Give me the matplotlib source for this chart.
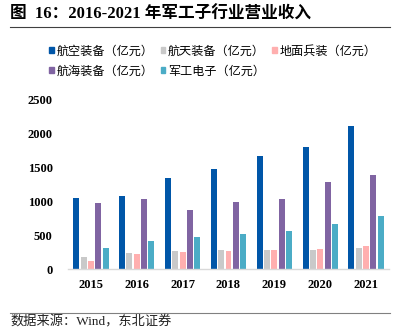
import numpy as np
import matplotlib.pyplot as plt
from matplotlib.lines import Line2D
from matplotlib.patches import Patch

years = ['2015', '2016', '2017', '2018', '2019', '2020', '2021']
series = ['航空装备（亿元）', '航天装备（亿元）', '地面兵装（亿元）',
          '航海装备（亿元）', '军工电子（亿元）']
aviation = [1039, 1074, 1338, 1466, 1657, 1794, 2098]
space = [172, 235, 265, 279, 284, 284, 309]
ground = [118, 216, 250, 265, 284, 299, 343]
naval = [971, 1029, 868, 980, 1029, 1279, 1382]
electronics = [304, 407, 475, 520, 559, 662, 779]
colors = ['#0056A8', '#C9C9C9', '#FFAFAF', '#8064A2', '#4BACC6']

mixed = ['Liberation Serif', 'Noto Sans CJK SC']

fig = plt.figure(figsize=(4.05, 3.33), dpi=100)
W, H = 405, 333

ax = fig.add_axes([68 / W, 64 / H, 321 / W, 170 / H])
x = np.arange(len(years))
stride = 0.16
width = 0.13
for i, vals in enumerate([aviation, space, ground, naval, electronics]):
    ax.bar(x + (i - 2) * stride, vals, width=width, color=colors[i], linewidth=0)

ax.set_xlim(-0.5, 6.5)
ax.set_ylim(0, 2500)
ax.set_yticks([0, 500, 1000, 1500, 2000, 2500])
ax.set_xticks(x)
ax.set_xticklabels(years)
for lab in ax.get_xticklabels() + ax.get_yticklabels():
    lab.set_fontfamily('Liberation Serif')
    lab.set_fontweight('bold')
    lab.set_fontsize(9)
ax.tick_params(axis='x', length=0, pad=7)
ax.tick_params(axis='y', length=0, pad=11)
for s in ['top', 'right', 'left']:
    ax.spines[s].set_visible(False)
ax.spines['bottom'].set_color('#D9D9D9')
ax.spines['bottom'].set_linewidth(1.0)

# legend
handles = [Patch(color=c) for c in colors]
leg_kw = dict(loc='center left', frameon=False, borderpad=0,
              prop={'family': 'Noto Sans CJK SC', 'size': 8.7},
              handlelength=0.4, handleheight=0.4, handletextpad=0.2,
              columnspacing=0.6)
fig.legend(handles[:3], series[:3], ncol=3,
           bbox_to_anchor=(43 / W, 1 - 51 / H), **leg_kw)
fig.legend(handles[3:], series[3:], ncol=2,
           bbox_to_anchor=(43 / W, 1 - 71 / H), **leg_kw)

# title and rules
fig.text(10 / W, 1 - 15 / H, '图  16：2016-2021 年军工子行业营业收入',
         family=mixed, fontweight='bold', fontsize=12, va='center', ha='left')
fig.add_artist(Line2D([10 / W, 390 / W], [1 - 27 / H, 1 - 27 / H],
                      color='#404040', linewidth=0.8))
fig.add_artist(Line2D([10 / W, 390 / W], [1 - 313 / H, 1 - 313 / H],
                      color='#808080', linewidth=0.8))
fig.text(10 / W, 1 - 322 / H, '数据来源：Wind，东北证券',
         family=mixed, fontsize=9.5, va='center', ha='left', color='#222222')

fig.savefig('out.png', dpi=100)
